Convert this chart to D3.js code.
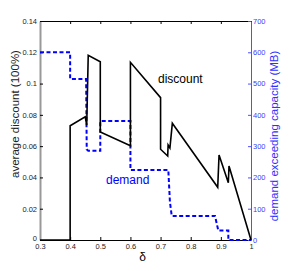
<!DOCTYPE html>
<html lang="en">
<head>
<meta charset="UTF-8">
<script src="https://d3js.org/d3.v7.min.js"></script>
<style>
  body { margin: 0; background: #fff; }
  text { font-family: "Liberation Sans", Arial, sans-serif; }
</style>
</head>
<body>
<script>
// discount curve (delta, average discount)
const discDelta = [0.3, 0.4, 0.4, 0.45, 0.455, 0.46, 0.5, 0.5, 0.6, 0.6, 0.7, 0.7, 0.7237, 0.725, 0.731, 0.739, 0.8896, 0.894, 0.9248, 0.927, 1.0];
const discValue = [0, 0, 0.073, 0.0788, 0.0735, 0.118, 0.114, 0.069, 0.0603, 0.1136, 0.091, 0.058, 0.0537, 0.0607, 0.0588, 0.0746, 0.0337, 0.0543, 0.0366, 0.0473, 0];

// demand exceeding capacity (delta, MB)
const demDelta = [0.3, 0.4, 0.4, 0.453, 0.455, 0.46, 0.5, 0.5, 0.6, 0.6, 0.7257, 0.731, 0.737, 0.8806, 0.8916, 0.9248, 0.9248, 1.0];
const demValue = [600, 600, 515, 515, 290, 285, 285, 380, 380, 224, 224, 122, 77, 77, 30, 30, 0, 0];

const xTicks = [0.3, 0.4, 0.5, 0.6, 0.7, 0.8, 0.9, 1];
const leftTicks = [0, 0.02, 0.04, 0.06, 0.08, 0.1, 0.12, 0.14];
const rightTicks = [0, 100, 200, 300, 400, 500, 600, 700];

const W = 291, H = 271;
const m = { left: 40, right: 40, top: 21, bottom: 31 };
const blue = "#0000ff";

const svg = d3.select("body").append("svg").attr("width", W).attr("height", H);

const x = d3.scaleLinear().domain([0.3, 1]).range([m.left, W - m.right]);
const yL = d3.scaleLinear().domain([0, 0.14]).range([H - m.bottom, m.top]);
const yR = d3.scaleLinear().domain([0, 700]).range([H - m.bottom, m.top]);

const fmt = d => d === 1 ? "1" : d3.format("")(+d.toFixed(2));

// bottom axis
const gx = svg.append("g").attr("transform", `translate(0,${H - m.bottom})`)
  .call(d3.axisBottom(x).tickValues(xTicks).tickSizeInner(-3).tickSizeOuter(0).tickPadding(4).tickFormat(fmt));
gx.select(".domain").attr("stroke", "#000");
gx.selectAll("text").attr("font-size", 7.5).attr("fill", "#222");

// top spine
const gt = svg.append("g").attr("transform", `translate(0,${m.top})`)
  .call(d3.axisTop(x).tickValues(xTicks).tickSizeInner(-3).tickSizeOuter(0).tickFormat(""));
gt.select(".domain").attr("stroke", "#000");

// left axis
const gl = svg.append("g").attr("transform", `translate(${m.left},0)`)
  .call(d3.axisLeft(yL).tickValues(leftTicks).tickSizeInner(-3).tickSizeOuter(0).tickPadding(3).tickFormat(fmt));
gl.select(".domain").attr("stroke", "#999").attr("stroke-width", 2);
gl.selectAll("text").attr("font-size", 7.5).attr("fill", "#222");
gl.selectAll(".tick").filter(d => d === 0).select("text").attr("dy", "0.1em");

// right axis
const gr = svg.append("g").attr("transform", `translate(${W - m.right},0)`)
  .call(d3.axisRight(yR).tickValues(rightTicks).tickSizeInner(-3).tickSizeOuter(0).tickPadding(2));
gr.select(".domain").attr("stroke", "#5050ff");
gr.selectAll("line").attr("stroke", "#5050ff");
gr.selectAll("text").attr("font-size", 7.5).attr("fill", "#4040ff");

// demand line
const demPts = demDelta.map((d, i) => [d, demValue[i]]);
svg.append("path")
  .attr("d", d3.line().x(d => x(d[0])).y(d => yR(d[1]))(demPts))
  .attr("fill", "none").attr("stroke", blue).attr("stroke-width", 2)
  .attr("stroke-dasharray", "4,2.5");

// discount line
const discPts = discDelta.map((d, i) => [d, discValue[i]]);
svg.append("path")
  .attr("d", d3.line().x(d => x(d[0])).y(d => yL(d[1]))(discPts))
  .attr("fill", "none").attr("stroke", "#000").attr("stroke-width", 1.6)
  .attr("stroke-linejoin", "miter");

// annotations
svg.append("text").attr("x", 158).attr("y", 83).attr("font-size", 12).text("discount");
svg.append("text").attr("x", 106).attr("y", 184).attr("font-size", 12).attr("fill", blue).text("demand");

// axis labels
svg.append("text").attr("x", x(0.64)).attr("y", 261).attr("text-anchor", "middle")
  .attr("font-size", 12).text("δ");
svg.append("text").attr("transform", "translate(19,114) rotate(-90)")
  .attr("text-anchor", "middle").attr("font-size", 11.5).attr("fill", "#222").text("average discount (100%)");
svg.append("text").attr("transform", "translate(278,136) rotate(-90)")
  .attr("text-anchor", "middle").attr("font-size", 11.5).attr("fill", "#3030ff").text("demand exceeding capacity (MB)");
</script>
</body>
</html>
